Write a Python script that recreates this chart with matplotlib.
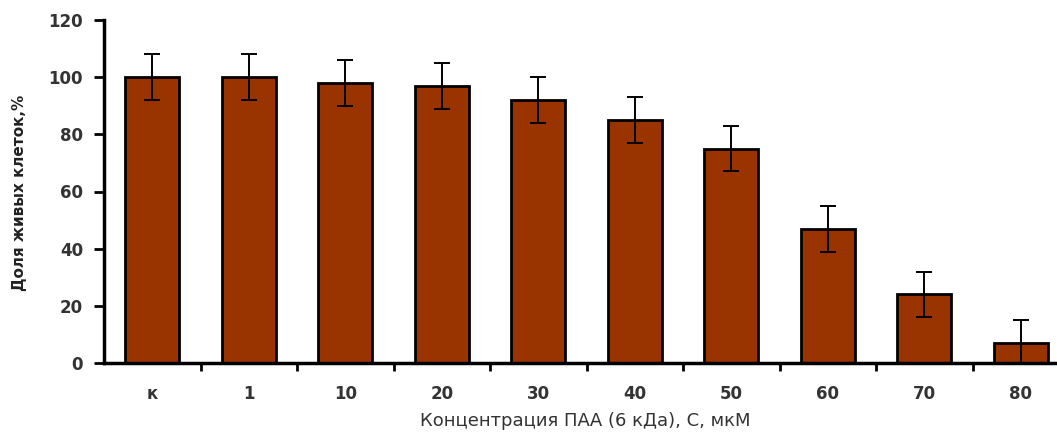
import matplotlib
matplotlib.use("Agg")
import matplotlib.pyplot as plt
import numpy as np

categories = ["к", "1", "10", "20", "30", "40", "50", "60", "70", "80"]
viability = [100, 100, 98, 97, 92, 85, 75, 47, 24, 7]
errors = [8, 8, 8, 8, 8, 8, 8, 8, 8, 8]

plt.rcParams["font.family"] = ["DejaVu Sans"]

fig = plt.figure(figsize=(10.57, 4.32), dpi=100)
ax = fig.add_axes([104 / 1057, 69 / 432, 965 / 1057, 343 / 432])

x = np.arange(len(categories))
ax.bar(x, viability, width=0.56, color="#993300", edgecolor="black",
       linewidth=2.0, zorder=2)
ax.errorbar(x, viability, yerr=errors, fmt="none", ecolor="black",
            elinewidth=1.4, capsize=6, capthick=1.4, zorder=3)

ax.set_xlim(-0.5, len(categories) - 0.5)
ax.set_ylim(0, 120)
ax.set_yticks(range(0, 121, 20))
ax.tick_params(axis="y", direction="out", length=7, width=2,
               labelsize=12, pad=8)
for lab in ax.get_yticklabels():
    lab.set_fontweight("bold")
    lab.set_color("#333333")

ax.set_xticks(x)
ax.set_xticklabels(categories, fontsize=12, fontweight="bold", color="#333333")
ax.tick_params(axis="x", length=0, pad=16)
ax.set_xticks(np.arange(0.5, len(categories), 1.0), minor=True)
ax.tick_params(axis="x", which="minor", direction="out", length=6, width=2)

for side in ("top", "right"):
    ax.spines[side].set_visible(False)
ax.spines["left"].set_linewidth(2.5)
ax.spines["bottom"].set_linewidth(2.5)

ax.set_ylabel("Доля живых клеток,%", fontsize=11, fontweight="bold",
              color="#222222")
ax.yaxis.set_label_coords(-(104 - 20) / 965, (363 - 193) / 343)
ax.yaxis.label.set_verticalalignment("center")
ax.set_xlabel("Концентрация ПАА (6 кДа), С, мкМ", fontsize=13,
              color="#333333")
ax.xaxis.set_label_coords((585 - 104) / 965, -(421 - 363) / 343)
ax.xaxis.label.set_verticalalignment("center")

fig.savefig("out.png", dpi=100)
